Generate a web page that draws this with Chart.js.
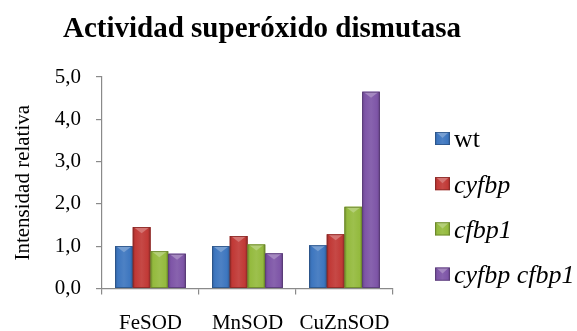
<!DOCTYPE html>
<html>
<head>
<meta charset="utf-8">
<script src="https://cdn.jsdelivr.net/npm/chart.js@4/dist/chart.umd.min.js"></script>
<style>
  html, body { margin: 0; padding: 0; background: #ffffff; }
  #wrap { width: 577px; height: 331px; }
</style>
</head>
<body>
<div id="wrap"><canvas id="c" width="577" height="331"></canvas></div>
<script>
// Superoxide dismutase activity, relative intensity per isoform and genotype
const chartTitle = 'Actividad superóxido dismutasa';
const yAxisTitle = 'Intensidad relativa';
const categories = ['FeSOD', 'MnSOD', 'CuZnSOD'];
const seriesNames = ['wt', 'cyfbp', 'cfbp1', 'cyfbp cfbp1'];
const wtValues = [1.00, 1.00, 1.02];
const cyfbpValues = [1.45, 1.24, 1.28];
const cfbp1Values = [0.88, 1.04, 1.93];
const doubleValues = [0.82, 0.83, 4.65];
const yTicks = [0, 1, 2, 3, 4, 5];

const seriesColors = ['#3d76bf', '#c13936', '#94ba3e', '#7e55a7'];
const italicSeries = [false, true, true, true];
const SERIF = "'Liberation Serif', 'Times New Roman', serif";
const AXIS_GREY = '#8a8a8a';

function shade(hex, amt) {
  const n = parseInt(hex.slice(1), 16);
  let r = (n >> 16) & 255, g = (n >> 8) & 255, b = n & 255;
  const f = v => Math.max(0, Math.min(255, Math.round(amt < 0 ? v * (1 + amt) : v + (255 - v) * amt)));
  return `rgb(${f(r)},${f(g)},${f(b)})`;
}

// Draws a bevelled, Office-style bar face over a rectangle
function paintBevel(ctx, left, top, width, height, color) {
  const grad = ctx.createLinearGradient(left, 0, left + width, 0);
  grad.addColorStop(0, shade(color, -0.2));
  grad.addColorStop(0.15, color);
  grad.addColorStop(0.5, shade(color, 0.08));
  grad.addColorStop(0.85, color);
  grad.addColorStop(1, shade(color, -0.25));
  ctx.fillStyle = grad;
  ctx.fillRect(left, top, width, height);
  // light chevron at the top edge
  const ch = Math.min(6, height / 2);
  ctx.fillStyle = shade(color, 0.3);
  ctx.beginPath();
  ctx.moveTo(left + 1, top);
  ctx.lineTo(left + width - 1, top);
  ctx.lineTo(left + width / 2, top + ch);
  ctx.closePath();
  ctx.fill();
  ctx.strokeStyle = shade(color, -0.3);
  ctx.lineWidth = 0.8;
  ctx.strokeRect(left + 0.4, top + 0.4, width - 0.8, height - 0.8);
}

const bevelBars = {
  id: 'bevelBars',
  afterDatasetsDraw(chart) {
    const ctx = chart.ctx;
    ctx.save();
    chart.data.datasets.forEach((ds, i) => {
      const meta = chart.getDatasetMeta(i);
      meta.data.forEach(bar => {
        const p = bar.getProps(['x', 'y', 'base', 'width'], true);
        const left = p.x - p.width / 2;
        const top = Math.min(p.y, p.base);
        const h = Math.abs(p.base - p.y);
        paintBevel(ctx, left, top, p.width, h, seriesColors[i]);
      });
    });
    ctx.restore();
  }
};

const titleAndLegend = {
  id: 'titleAndLegend',
  afterDraw(chart) {
    const ctx = chart.ctx;
    ctx.save();
    ctx.fillStyle = '#000000';
    ctx.font = `bold 29px ${SERIF}`;
    ctx.textAlign = 'center';
    ctx.textBaseline = 'alphabetic';
    ctx.fillText(chartTitle, 262, 37);

    const boxX = 435, boxW = 15, boxH = 13, textX = 454;
    const firstY = 138.5, stepY = 45.2;
    chart.data.datasets.forEach((ds, i) => {
      const cy = firstY + i * stepY;
      paintBevel(ctx, boxX, cy - boxH / 2, boxW, boxH, seriesColors[i]);
      ctx.fillStyle = '#000000';
      ctx.font = `${italicSeries[i] ? 'italic ' : ''}26px ${SERIF}`;
      ctx.textAlign = 'left';
      ctx.textBaseline = 'middle';
      ctx.fillText(ds.label, textX, cy + 2);
    });
    ctx.restore();
  }
};

const seriesValues = [wtValues, cyfbpValues, cfbp1Values, doubleValues];

new Chart(document.getElementById('c'), {
  type: 'bar',
  data: {
    labels: categories,
    datasets: seriesNames.map((name, i) => ({
      label: name,
      data: seriesValues[i],
      backgroundColor: seriesColors[i],
      borderWidth: 0,
      barPercentage: 1.0,
      categoryPercentage: 0.73
    }))
  },
  options: {
    responsive: false,
    animation: false,
    layout: { padding: { top: 77, right: 184, bottom: 0, left: 0 } },
    plugins: {
      legend: { display: false },
      title: { display: false },
      tooltip: { enabled: false }
    },
    scales: {
      x: {
        offset: true,
        afterFit(scale) { scale.height = 42.5; },
        border: { display: true, color: AXIS_GREY, width: 1.2 },
        grid: { display: true, drawOnChartArea: false, drawTicks: true, tickLength: 6, color: AXIS_GREY, lineWidth: 1.2 },
        ticks: { color: '#000000', padding: 16, font: { family: SERIF, size: 21 } }
      },
      y: {
        min: 0,
        max: 5,
        afterFit(scale) { scale.width = 102; },
        afterBuildTicks(scale) { scale.ticks = yTicks.map(v => ({ value: v })); },
        border: { display: true, color: AXIS_GREY, width: 1.2 },
        grid: { display: true, drawOnChartArea: false, drawTicks: true, tickLength: 6, color: AXIS_GREY, lineWidth: 1.2 },
        ticks: {
          color: '#000000',
          padding: 15,
          font: { family: SERIF, size: 21 },
          callback: v => v.toFixed(1).replace('.', ',')
        },
        title: {
          display: true,
          text: yAxisTitle,
          color: '#000000',
          font: { family: SERIF, size: 21 },
          padding: { top: 11, bottom: 0 }
        }
      }
    }
  },
  plugins: [bevelBars, titleAndLegend]
});
</script>
</body>
</html>
